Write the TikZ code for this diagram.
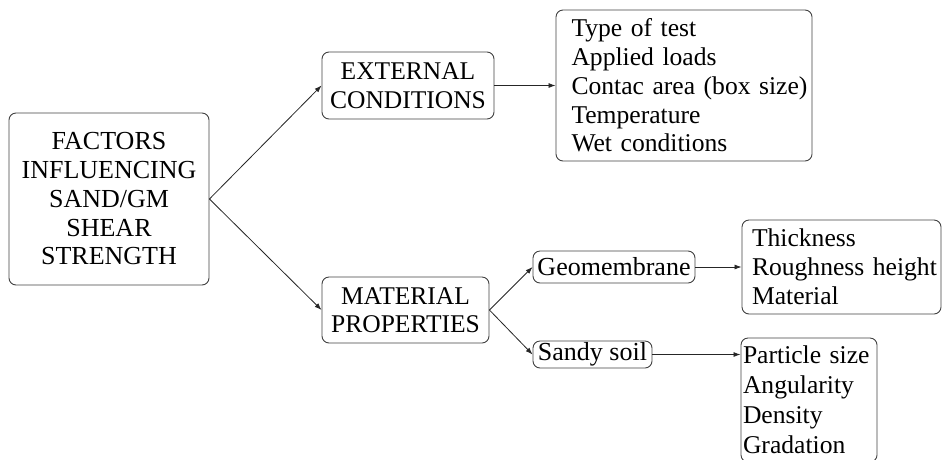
\documentclass[tikz,border=0pt]{standalone}
\usepackage{fontspec}
\setmainfont{Liberation Serif}
\usetikzlibrary{arrows.meta}
\begin{document}
\begin{tikzpicture}[x=1pt,y=-1pt,
  box/.style={draw=black!75, line width=0.9pt, rounded corners=7pt, inner sep=0pt, align=center},
  capbox/.style={box, font=\fontsize{25.5}{28.5}\selectfont},
  listbox/.style={box, align=left, font=\fontsize{25.6}{28.75}\selectfont},
  smallbox/.style={box, font=\fontsize{26}{29}\selectfont},
  arr/.style={-{Latex[length=7pt,width=5pt]}, line width=0.8pt, black!85}
]
\useasboundingbox (0,0) rectangle (942,459);
\clip (0,0) rectangle (942,459);
\node[capbox, minimum width=200pt, minimum height=172pt, font=\fontsize{26}{28.75}\selectfont] (fac) at (109,199) {FACTORS\\INFLUENCING\\SAND/GM\\SHEAR\\STRENGTH};
\node[capbox, minimum width=172pt, minimum height=67pt] (ext) at (408,85.5) {EXTERNAL\\CONDITIONS};
\node[capbox, minimum width=167pt, minimum height=66pt] (mat) at (405.5,310) {MATERIAL\\PROPERTIES};
\node[listbox, text width=252pt, inner xsep=2pt, minimum height=151pt, execute at begin node={\leftskip=13.5pt}] (l1) at (684,85.5) {Type~of~test\\Applied~loads\\Contac~area~(box~size)\\Temperature\\Wet~conditions};
\node[smallbox, minimum width=162pt, minimum height=32pt] (geo) at (614,267) {Geomembrane};
\node[smallbox, minimum width=119pt, minimum height=27pt] (sandy) at (592.5,354.5) {Sandy~soil};
\node[listbox, text width=197pt, inner xsep=1pt, minimum height=94pt, font=\fontsize{25.6}{29}\selectfont, execute at begin node={\leftskip=9pt}] (l2) at (841.5,267) {Thickness\\Roughness~height\\Material};
\node[listbox, text width=132pt, inner xsep=2pt, minimum height=124pt, font=\fontsize{25.6}{30}\selectfont] (l3) at (809,400) {Particle~size\\Angularity\\Density\\Gradation};
\draw[arr] (fac.east) -- (ext.west);
\draw[arr] (fac.east) -- (mat.west);
\draw[arr] (ext.east) -- (l1.west);
\draw[arr] (mat.east) -- (geo.west);
\draw[arr] (mat.east) -- (sandy.west);
\draw[arr] (geo.east) -- (l2.west);
\draw[arr] (sandy.east) -- (sandy.east -| l3.west);
\end{tikzpicture}
\end{document}
